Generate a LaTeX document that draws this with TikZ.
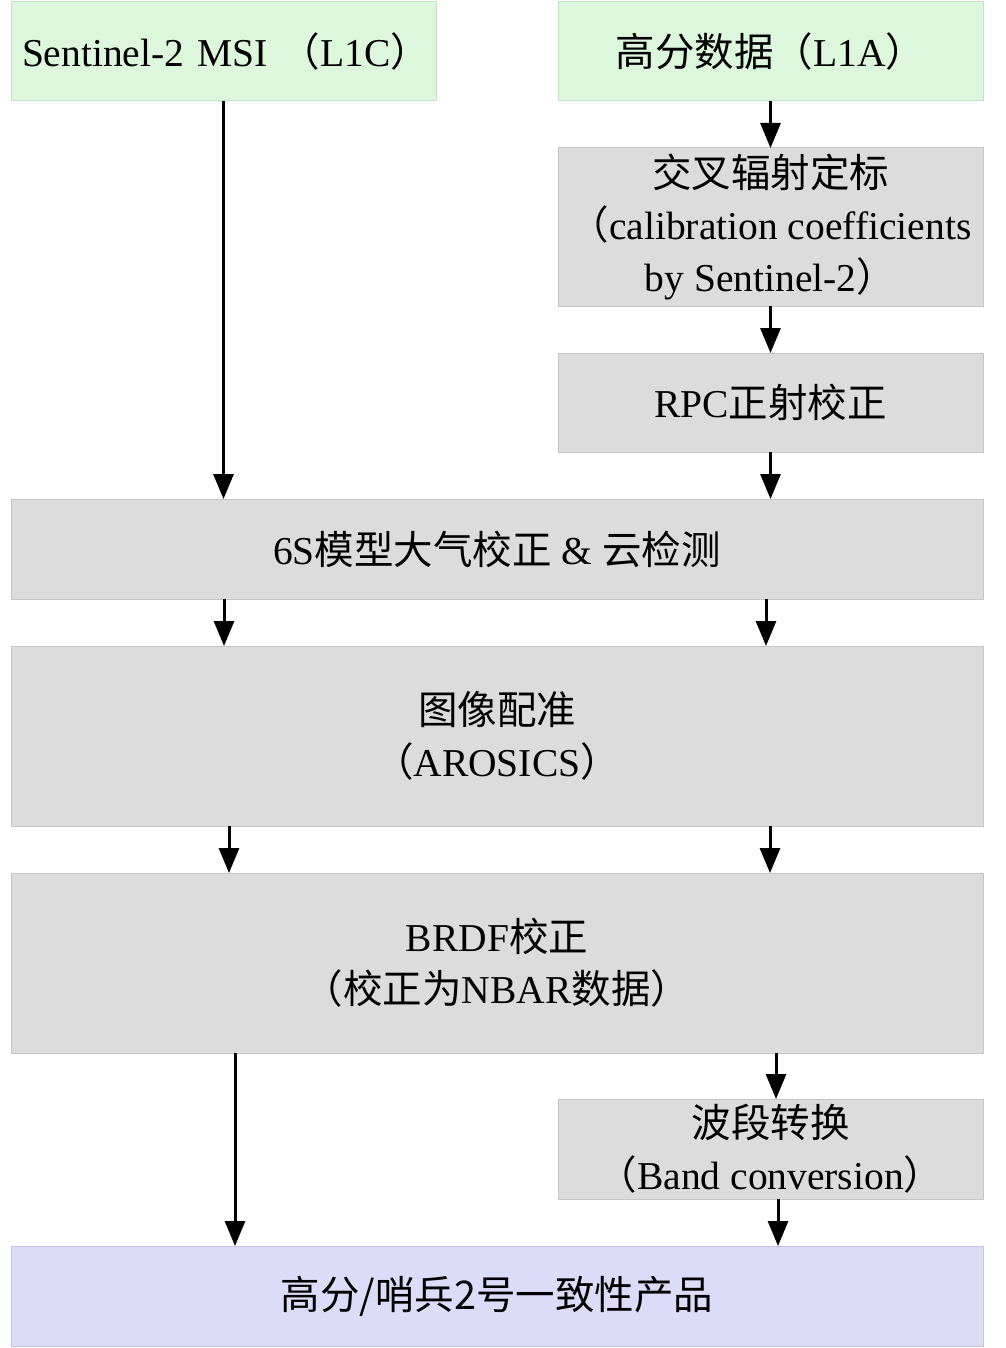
\documentclass[tikz,border=0pt]{standalone}
\usepackage{fontspec}
\setmainfont{Liberation Serif}
\newfontfamily\cjk{Noto Sans CJK SC}
\newcommand{\zh}[1]{{\cjk #1}}
\usetikzlibrary{arrows.meta}
\definecolor{greenfill}{HTML}{DDF7DD}
\definecolor{greenline}{HTML}{C4E3C4}
\definecolor{greyfill}{HTML}{DCDCDC}
\definecolor{greyline}{HTML}{C6C6C6}
\definecolor{bluefill}{HTML}{DCDCF8}
\definecolor{blueline}{HTML}{C4C4E4}

\begin{document}
\begin{tikzpicture}[x=1pt, y=-1pt,
        box/.style = {draw=greyline, fill=greyfill, line width=1pt, inner sep=0pt, outer sep=0pt,
                      align=center, font=\fontsize{39.5}{52}\selectfont},
        inbox/.style = {box, draw=greenline, fill=greenfill},
        outbox/.style = {box, draw=blueline, fill=bluefill},
        arr/.style = {line width=3pt, -{Triangle[length=25pt, width=20pt]}}]
        \useasboundingbox (0,0) rectangle (1005,1348);
        % inputs
        \node[inbox, minimum width=425, minimum height=99, inner xsep=11pt, text width=403, align=left] (sentinel) at (223.5,51.5) {\mbox{Sentinel-2 MSI \zh{（}L1C\zh{）}}};
        \node[inbox, minimum width=425, minimum height=99] (gaofen) at (770.5,51.5) {\zh{高分数据（}L1A\zh{）}};
        % gaofen preprocessing
        \node[box, minimum width=425, minimum height=158] (calib) at (770.5,227) {\zh{交叉辐射定标}\\\zh{（}calibration coefficients\\by Sentinel-2\zh{）}};
        \node[box, minimum width=425, minimum height=99] (rpc) at (770.5,402.5) {RPC\zh{正射校正}};
        % common steps
        \node[box, minimum width=972, minimum height=100] (atmos) at (497,549) {6S\zh{模型大气校正} \& \zh{云检测}};
        \node[box, minimum width=972, minimum height=180] (coreg) at (497,736) {\zh{图像配准}\\\zh{（}AROSICS\zh{）}};
        \node[box, minimum width=972, minimum height=180] (brdf) at (497,963) {BRDF\zh{校正}\\\zh{（校正为}NBAR\zh{数据）}};
        \node[box, minimum width=425, minimum height=100] (band) at (770.5,1149) {\zh{波段转换}\\\zh{（}Band conversion\zh{）}};
        % output
        \node[outbox, minimum width=972, minimum height=100] (product) at (497,1296) {\zh{高分/哨兵2号一致性产品}};

        \draw[arr] (sentinel.south) -- (sentinel.south |- atmos.north);
        \draw[arr] (gaofen) -- (calib);
        \draw[arr] (calib) -- (rpc);
        \draw[arr] (rpc) -- (rpc.south |- atmos.north);
        \draw[arr] ([xshift=213]atmos.south west) -- ([xshift=213]coreg.north west);
        \draw[arr] ([xshift=755]atmos.south west) -- ([xshift=755]coreg.north west);
        \draw[arr] ([xshift=218]coreg.south west) -- ([xshift=218]brdf.north west);
        \draw[arr] ([xshift=759]coreg.south west) -- ([xshift=759]brdf.north west);
        \draw[arr] ([xshift=5.5]band.north |- brdf.south) -- ([xshift=5.5]band.north);
        \draw[arr] ([xshift=224]brdf.south west) -- ([xshift=224]product.north west);
        \draw[arr] ([xshift=7.5]band.south) -- ([xshift=7.5]band.south |- product.north);
    \end{tikzpicture}
\end{document}
